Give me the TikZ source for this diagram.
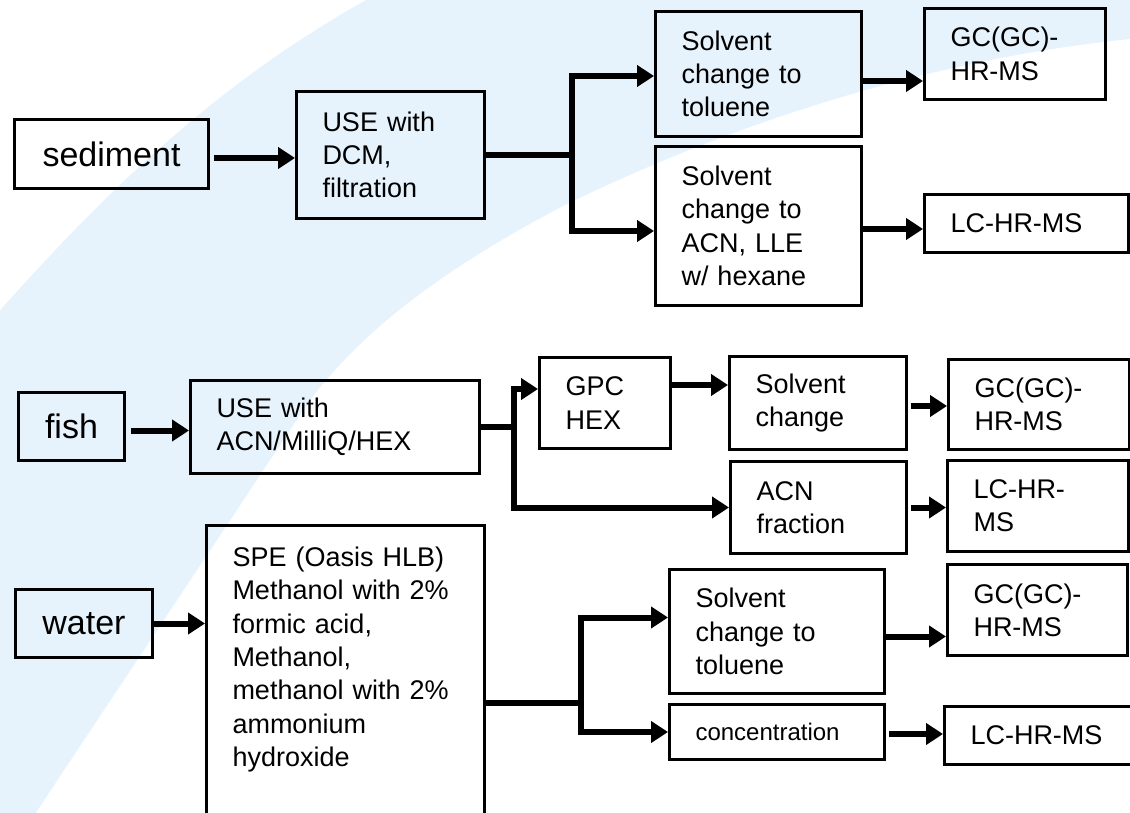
\documentclass[tikz,border=0pt]{standalone}
\usepackage{fontspec}
\setmainfont{Liberation Sans}
\usetikzlibrary{arrows.meta,calc}
\definecolor{bgband}{RGB}{231,243,252}
\newcommand\txtfont{\fontsize{27}{33.3}\selectfont}
\newcommand\lblfont{\fontsize{34}{40}\selectfont}
\newcommand\smfont{\fontsize{24}{30}\selectfont}
\begin{document}
\begin{tikzpicture}[x=1pt,y=-1pt,
  box/.style={draw, line width=3pt, anchor=north west, inner xsep=26pt, inner ysep=0pt, align=left, font=\txtfont},
  lbl/.style={draw, line width=3pt, anchor=north west, inner sep=0pt, align=center, font=\lblfont},
  conn/.style={line width=6pt, line join=miter},
  arr/.style={conn, -{Triangle[length=17pt,width=21pt]}}]
\useasboundingbox (0,0) rectangle (1130,813);
\clip (0,0) rectangle (1130,813);
% background band
\fill[bgband] (-5,316) .. controls (120,175) and (230,75) .. (375,-5) -- (1140,-5) -- (1140,38)
  .. controls (960,55) and (760,110) .. (565,205)
  .. controls (450,265) and (360,330) .. (306,406) -- (31,820) -- (-5,820) -- cycle;

% sediment row
\node[lbl, minimum width=194pt, minimum height=69pt, text width=194pt] (sed) at (13,118) {sediment};
\node[box, minimum width=188pt, minimum height=127pt, text width=136pt] (useD) at (295,90) {USE with\\DCM,\\filtration};
\node[box, minimum width=206pt, minimum height=125pt, text width=154pt] (tolS) at (654,10) {Solvent\\change to\\toluene};
\node[box, minimum width=206pt, minimum height=159pt, text width=154pt] (acnS) at (654,145) {Solvent\\change to\\ACN, LLE\\w/ hexane};
\node[box, minimum width=181pt, minimum height=91pt, text width=129pt] (gcS) at (923,7) {GC(GC)-\\HR-MS};
\node[box, minimum width=204pt, minimum height=58pt, text width=152pt] (lcS) at (923,193) {LC-HR-MS};

% fish row
\node[lbl, minimum width=106pt, minimum height=68pt, text width=106pt] (fish) at (17,391) {fish};
\node[box, minimum width=289pt, minimum height=93pt, text width=237pt] (useF) at (189,379) {USE with\\ACN/MilliQ/HEX};
\node[box, minimum width=131pt, minimum height=91pt, text width=79pt] (gpc) at (538,356) {GPC\\HEX};
\node[box, minimum width=177pt, minimum height=93pt, text width=125pt] (solF) at (728,355) {Solvent\\change};
\node[box, minimum width=181pt, minimum height=90pt, text width=129pt] (gcF) at (947,358) {GC(GC)-\\HR-MS};
\node[box, minimum width=176pt, minimum height=92pt, text width=124pt] (acnF) at (729,460) {ACN\\fraction};
\node[box, minimum width=181pt, minimum height=91pt, text width=129pt] (lcF) at (946,459) {LC-HR-\\MS};

% water row
\node[lbl, minimum width=137pt, minimum height=68pt, text width=137pt] (water) at (14,588) {water};
\node[box, minimum width=278pt, text width=226pt, text depth=300pt] (spe) at (205,524) {\rule{0pt}{41pt}SPE (Oasis HLB)\\Methanol with 2\%\\formic acid,\\Methanol,\\methanol with 2\%\\ammonium\\hydroxide};
\node[box, minimum width=215pt, minimum height=124pt, text width=163pt] (solW) at (668,568) {Solvent\\change to\\toluene};
\node[box, minimum width=215pt, minimum height=55pt, text width=163pt, font=\smfont] (conc) at (668,703) {concentration};
\node[box, minimum width=180pt, minimum height=91pt, text width=128pt] (gcW) at (946,563) {GC(GC)-\\HR-MS};
\node[box, minimum width=190pt, minimum height=58pt, text width=138pt] (lcW) at (943,705) {LC-HR-MS};

% sediment connectors
\draw[arr, shorten <=4pt] ($(sed.east)+(0,4)$) -- ($(sed.east -| useD.west)+(0,4)$);
\coordinate (b1) at ($(useD.east)+(86,0)$);
\draw[conn] (useD.east) -- (b1);
\draw[arr] (b1) |- ($(tolS.west)+(0,2)$);
\draw[arr] (b1) |- ($(acnS.west)+(0,5)$);
\draw[arr] ($(tolS.east)+(0,7)$) -- ($(tolS.east -| gcS.west)+(0,7)$);
\draw[arr] ($(acnS.east)+(0,3)$) -- ($(acnS.east -| lcS.west)+(0,3)$);

% fish connectors
\draw[arr, shorten <=5pt] ($(fish.east)+(0,4)$) -- ($(fish.east -| useF.west)+(0,4)$);
\coordinate (b2) at ($(useF.east)+(33,0)$);
\draw[conn] (useF.east) -- (b2);
\draw[arr] (b2) |- ($(gpc.west)+(0,-14)$);
\draw[arr] (b2) |- (acnF.west);
\draw[arr] ($(gpc.east)+(0,-18)$) -- ($(gpc.east -| solF.west)+(0,-18)$);
\draw[arr, shorten <=3pt] ($(solF.east)+(0,3)$) -- ($(solF.east -| gcF.west)+(0,3)$);
\draw[arr, shorten <=3pt] (acnF.east) -- (acnF.east -| lcF.west);

% water connectors
\draw[arr] (water.east) -- (water.east -| spe.west);
\coordinate (w0) at ($(spe.north east)+(0,179)$);
\coordinate (b3) at ($(w0)+(95,0)$);
\draw[conn] (w0) -- (b3);
\draw[arr] (b3) |- ($(solW.west)+(0,-14)$);
\draw[arr] (b3) |- (conc.west);
\draw[arr] ($(solW.east)+(0,5)$) -- ($(solW.east -| gcW.west)+(0,5)$);
\draw[arr, shorten <=3pt] ($(conc.east)+(0,2)$) -- ($(conc.east -| lcW.west)+(0,2)$);
\end{tikzpicture}
\end{document}
